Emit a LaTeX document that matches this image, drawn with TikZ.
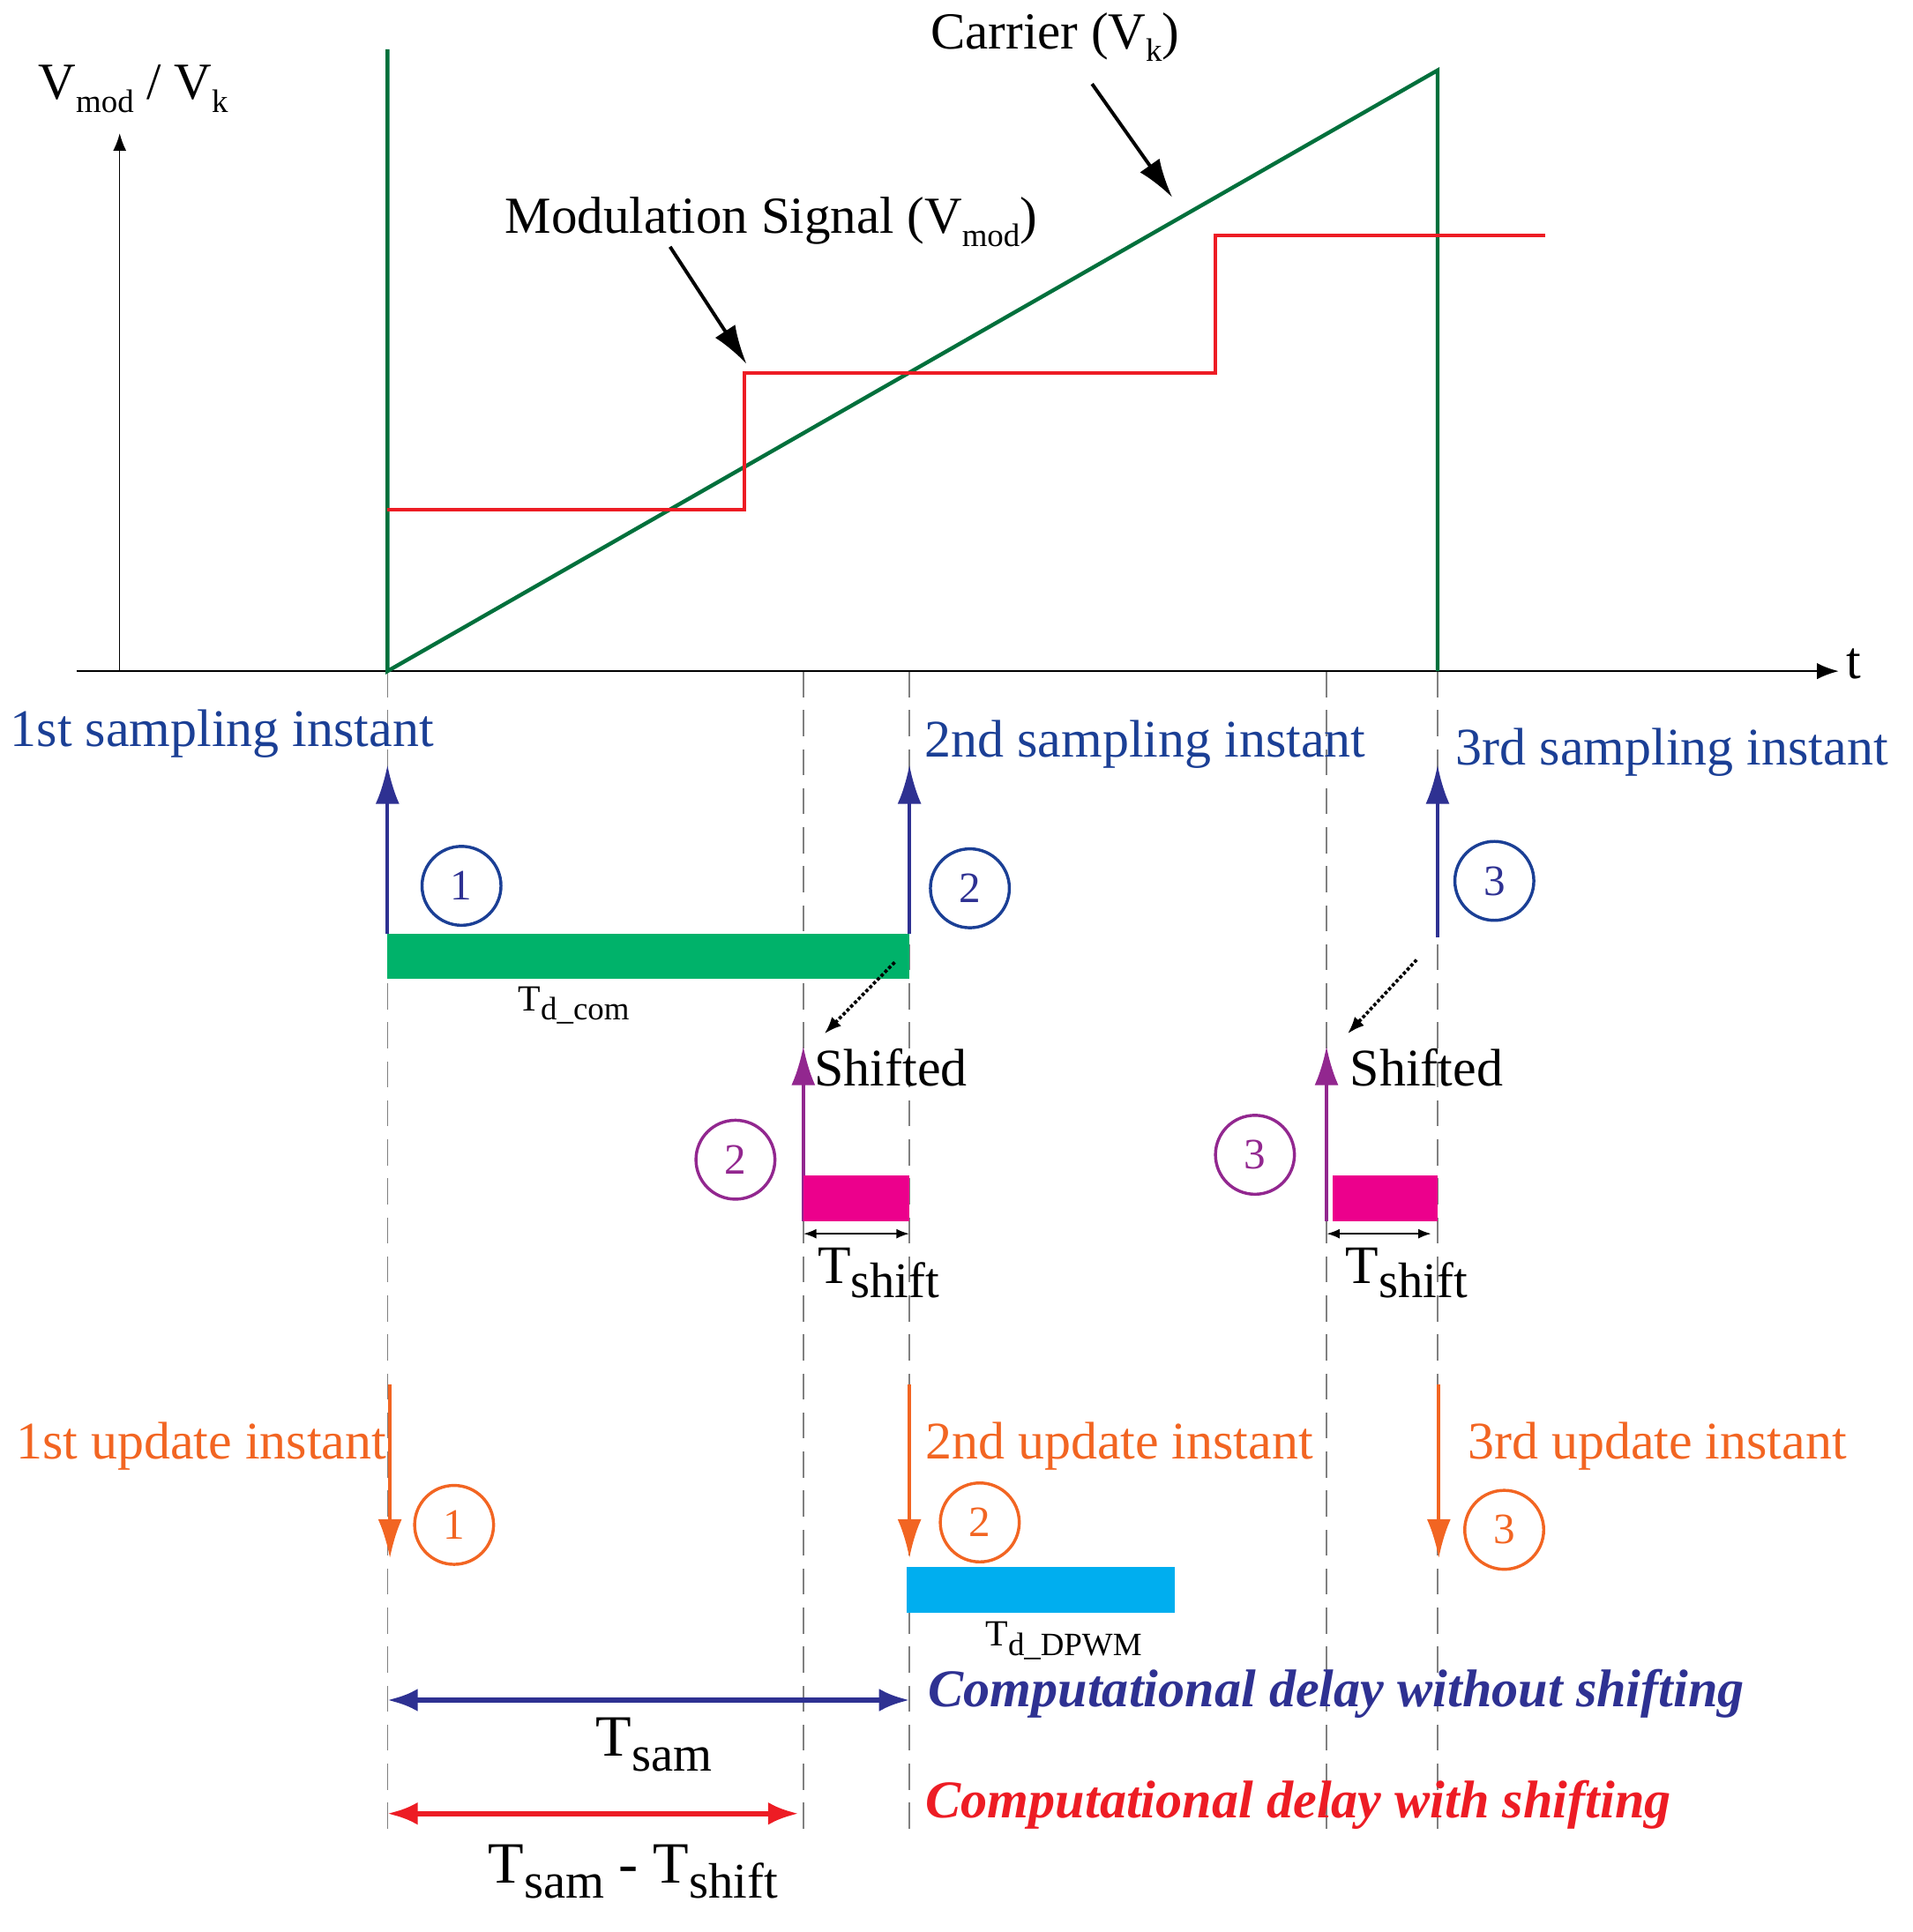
\documentclass[tikz,border=0pt]{standalone}
\usepackage{fontspec}
\setmainfont{Liberation Serif}
\usetikzlibrary{arrows.meta}
\newcommand{\sbs}[1]{\raisebox{-0.55ex}{\fontsize{15}{15}\selectfont #1}}
\definecolor{dgreen}{HTML}{00703C}
\definecolor{mred}{HTML}{ED1C24}
\definecolor{navy}{HTML}{2E3192}
\definecolor{orng}{HTML}{F26522}
\definecolor{purp}{HTML}{92278F}
\definecolor{pink}{HTML}{EC008C}
\definecolor{gbar}{HTML}{00B26A}
\definecolor{cyan2}{HTML}{00AEEF}
\definecolor{sblue}{HTML}{1B3F95}
\begin{document}
\begin{tikzpicture}[x=0.02cm,y=-0.02cm,
  txt/.style={font=\fontsize{24.4}{28}\selectfont},
  circ/.style={circle,draw,line width=1.4pt,minimum size=1.28cm,inner sep=0pt,font=\fontsize{20}{24}\selectfont},
  gdash/.style={gray,dash pattern=on 12pt off 6pt,line width=0.6pt},
  big/.style={-{Latex[length=18pt,width=11pt]},line width=1.6pt}]
\useasboundingbox (0,0) rectangle (1550,1566);
% dashed verticals
\foreach \x/\t in {314/544,651/544,737/544,1075/544,1165/544}{
  \coordinate (d\x) at (\x,\t); \coordinate (e\x) at (\x,1482);
  \draw[gdash] (d\x) -- (e\x);}
% axes
\coordinate (o) at (97,544); \coordinate (yt) at (97,108);
\coordinate (xl) at (62,544); \coordinate (xt) at (1490,544);
\draw[-{Latex[length=8pt]},line width=0.6pt] (o) -- (yt);
\draw[-{Latex[length=10pt]},line width=0.8pt] (xl) -- (xt);
\node[txt] (tl) at (1502,538) {t};
\node[txt,font=\fontsize{24}{28}\selectfont] (vl) at (108,72) {V\sbs{mod} / V\sbs{k}};
% carrier
\coordinate (c0) at (314,40); \coordinate (c1) at (314,544); \coordinate (c2) at (1165,57); \coordinate (c3) at (1165,544);
\draw[dgreen,line width=1.8pt] (c0) -- (c1) -- (c2) -- (c3);
% modulation
\draw[mred,line width=1.6pt] (314,413) -- (603,413) -- (603,302) -- (985,302) -- (985,191) -- (1252,191);
\node[txt,font=\fontsize{24}{28}\selectfont] (carr) at (855,30) {Carrier (V\sbs{k})};
\coordinate (ca1) at (885,68); \coordinate (ca2) at (950,160);
\draw[-{Latex[length=18pt,width=11pt]},line width=1.6pt] (ca1) -- (ca2);
\node[txt,font=\fontsize{24}{28}\selectfont] (mod) at (625,180) {Modulation Signal (V\sbs{mod})};
\coordinate (ma1) at (543,200); \coordinate (ma2) at (605,295);
\draw[-{Latex[length=18pt,width=11pt]},line width=1.6pt] (ma1) -- (ma2);
% sampling
\node[txt,text=sblue] (s1) at (180,595) {1st sampling instant};
\node[txt,text=sblue] (s2) at (928,603) {2nd sampling instant};
\node[txt,text=sblue] (s3) at (1355,610) {3rd sampling instant};
\foreach \x/\b/\n in {314/757/1,737/757/2,1165/760/3}{
  \coordinate (sa\n) at (\x,\b); \coordinate (sb\n) at (\x,620);
  \draw[big,navy] (sa\n) -- (sb\n);}
\node[circ,draw=sblue,text=navy] (b1) at (374,718) {1};
\node[circ,draw=sblue,text=navy] (b2) at (786,720) {2};
\node[circ,draw=sblue,text=navy] (b3) at (1211,714) {3};
\fill[gbar] (314,757) rectangle (737,793);
\node[font=\fontsize{17}{20}\selectfont] (tdc) at (465,815) {T\sbs{d\_com}};
% dotted
\coordinate (dt1) at (725,780); \coordinate (dt2) at (668,838);
\coordinate (dt3) at (1148,778); \coordinate (dt4) at (1092,838);
\draw[densely dotted,line width=1.5pt,-{Latex[length=8pt]}] (dt1) -- (dt2);
\draw[densely dotted,line width=1.5pt,-{Latex[length=8pt]}] (dt3) -- (dt4);
% shifted
\foreach \x/\n in {651/2,1075/3}{
  \coordinate (pa\n) at (\x,990); \coordinate (pb\n) at (\x,848);
  \draw[big,purp] (pa\n) -- (pb\n);}
\node[txt] (sh1) at (722,865) {Shifted};
\node[txt] (sh2) at (1156,865) {Shifted};
\node[circ,draw=purp,text=purp] (p2) at (596,940) {2};
\node[circ,draw=purp,text=purp] (p3) at (1017,936) {3};
\fill[pink] (651,953) rectangle (737,990);
\fill[pink] (1080,953) rectangle (1165,990);
\coordinate (ts1) at (651,1000); \coordinate (ts2) at (737,1000);
\coordinate (ts3) at (1075,1000); \coordinate (ts4) at (1160,1000);
\draw[{Latex[length=6pt]}-{Latex[length=6pt]},line width=1pt] (ts1) -- (ts2);
\draw[{Latex[length=6pt]}-{Latex[length=6pt]},line width=1pt] (ts3) -- (ts4);
\node[txt,font=\fontsize{25}{28}\selectfont] (tsh1) at (712,1032) {T\sbs{\fontsize{23}{23}\selectfont shift}};
\node[txt,font=\fontsize{25}{28}\selectfont] (tsh2) at (1140,1032) {T\sbs{\fontsize{23}{23}\selectfont shift}};
% update
\node[txt,text=orng] (u1) at (163,1172) {1st update instant};
\node[txt,text=orng] (u2) at (907,1172) {2nd update instant};
\node[txt,text=orng] (u3) at (1343,1172) {3rd update instant};
\foreach \x/\n in {316/1,737/2,1166/3}{
  \coordinate (ua\n) at (\x,1122); \coordinate (ub\n) at (\x,1263);
  \draw[big,orng] (ua\n) -- (ub\n);}
\node[circ,draw=orng,text=orng] (o1) at (368,1236) {1};
\node[circ,draw=orng,text=orng] (o2) at (794,1234) {2};
\node[circ,draw=orng,text=orng] (o3) at (1219,1240) {3};
\fill[cyan2] (735,1270) rectangle (952,1307);
\node[font=\fontsize{17}{20}\selectfont] (tdp) at (862,1330) {T\sbs{d\_DPWM}};
% delays
\coordinate (q1) at (314,1378); \coordinate (q2) at (737,1378);
\draw[navy,line width=2.4pt,{Latex[length=14pt]}-{Latex[length=14pt]}] (q1) -- (q2);
\node[txt,font=\fontsize{27}{30}\selectfont] (tsam) at (530,1414) {T\sbs{\fontsize{23}{23}\selectfont sam}};
\node[txt,text=navy,font=\fontsize{24.5}{28}\selectfont\bfseries\itshape,anchor=west] (cd1) at (746,1373) {Computational delay without shifting};
\coordinate (r1) at (314,1470); \coordinate (r2) at (647,1470);
\draw[mred,line width=2.4pt,{Latex[length=14pt]}-{Latex[length=14pt]}] (r1) -- (r2);
\node[txt,font=\fontsize{27}{30}\selectfont] (tss) at (513,1517) {T\sbs{\fontsize{23}{23}\selectfont sam} - T\sbs{\fontsize{23}{23}\selectfont shift}};
\node[txt,text=mred,font=\fontsize{24.5}{28}\selectfont\bfseries\itshape,anchor=west] (cd2) at (744,1463) {Computational delay with shifting};
\end{tikzpicture}
\end{document}
